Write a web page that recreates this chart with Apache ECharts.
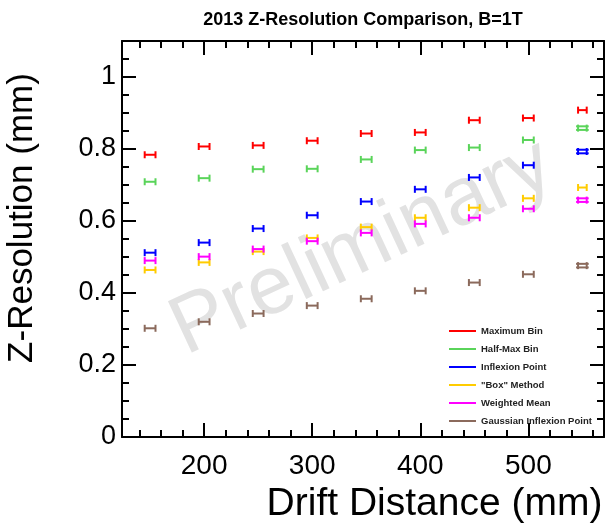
<!DOCTYPE html>
<html>
<head>
<meta charset="utf-8">
<script src="https://cdn.jsdelivr.net/npm/echarts@6/dist/echarts.min.js"></script>
<style>html,body{margin:0;padding:0;background:#fff}#c{width:608px;height:524px}</style>
</head>
<body>
<div id="c"></div>
<script>
// ---- data ----
const drift = [150, 200, 250, 300, 350, 400, 450, 500, 550];
const driftErr = [5, 5, 5, 5, 5, 5, 5, 5, 4];
const maxBin = [0.784, 0.807, 0.810, 0.823, 0.843, 0.846, 0.880, 0.886, 0.908];
const maxBinErr = [0, 0, 0, 0, 0, 0, 0, 0, 0];
const halfMax = [0.709, 0.719, 0.744, 0.745, 0.771, 0.797, 0.804, 0.825, 0.858];
const halfMaxErr = [0, 0, 0, 0, 0, 0, 0, 0, 0.005];
const inflexion = [0.512, 0.540, 0.579, 0.616, 0.654, 0.688, 0.721, 0.755, 0.793];
const inflexionErr = [0, 0, 0, 0, 0, 0, 0, 0, 0.005];
const boxMethod = [0.464, 0.485, 0.515, 0.553, 0.583, 0.609, 0.637, 0.663, 0.693];
const boxMethodErr = [0, 0, 0, 0, 0, 0, 0, 0, 0];
const weightedMean = [0.490, 0.501, 0.522, 0.544, 0.567, 0.592, 0.609, 0.634, 0.658];
const weightedMeanErr = [0, 0, 0, 0, 0, 0, 0, 0, 0.005];
const gaussInflexion = [0.302, 0.320, 0.343, 0.365, 0.384, 0.406, 0.429, 0.452, 0.476];
const gaussInflexionErr = [0, 0, 0, 0, 0, 0, 0, 0, 0.005];

const seriesNames = ['Maximum Bin', 'Half-Max Bin', 'Inflexion Point', '"Box" Method', 'Weighted Mean', 'Gaussian Inflexion Point'];
const seriesValues = [maxBin, halfMax, inflexion, boxMethod, weightedMean, gaussInflexion];
const seriesErrors = [maxBinErr, halfMaxErr, inflexionErr, boxMethodErr, weightedMeanErr, gaussInflexionErr];
const seriesColors = ['#ff0000', '#5ad45a', '#0000ff', '#ffcc00', '#ff00ff', '#8b6a5c'];

const xMajor = [200, 300, 400, 500];
const xMinor = [140, 160, 180, 220, 240, 260, 280, 320, 340, 360, 380, 420, 440, 460, 480, 520, 540, 560];
const yMajor = [0, 0.2, 0.4, 0.6, 0.8, 1.0];
const yMinor = [0.05, 0.1, 0.15, 0.25, 0.3, 0.35, 0.45, 0.5, 0.55, 0.65, 0.7, 0.75, 0.85, 0.9, 0.95, 1.05];
const xMin = 124, xMax = 570, yMin = 0, yMax = 1.1;

const FONT = 'Liberation Sans, Arial, Helvetica, sans-serif';

function renderErr(params, api) {
  const x = api.value(0), y = api.value(1), ex = api.value(2), ey = api.value(3);
  const c = api.coord([x, y]);
  const l = api.coord([x - ex, y]);
  const r = api.coord([x + ex, y]);
  const color = api.visual('color');
  const style = { stroke: color, lineWidth: 2 };
  const cap = 3.5;
  const ch = [
    { type: 'line', shape: { x1: l[0], y1: c[1] - cap, x2: l[0], y2: c[1] + cap }, style },
    { type: 'line', shape: { x1: r[0], y1: c[1] - cap, x2: r[0], y2: c[1] + cap }, style }
  ];
  if (ey > 0) {
    const t = api.coord([x, y + ey]);
    const b = api.coord([x, y - ey]);
    const hw = (r[0] - l[0]) / 2 + 2;
    ch.push({ type: 'line', shape: { x1: c[0] - hw, y1: t[1], x2: c[0] + hw, y2: t[1] }, style });
    ch.push({ type: 'line', shape: { x1: c[0] - hw, y1: b[1], x2: c[0] + hw, y2: b[1] }, style });
  } else {
    ch.push({ type: 'line', shape: { x1: l[0], y1: c[1], x2: r[0], y2: c[1] }, style });
  }
  return { type: 'group', children: ch };
}

const series = seriesNames.map((name, i) => ({
  name,
  type: 'custom',
  xAxisIndex: 0,
  yAxisIndex: 0,
  renderItem: renderErr,
  itemStyle: { color: seriesColors[i] },
  encode: { x: 0, y: 1 },
  data: drift.map((d, k) => [d, seriesValues[i][k], driftErr[k], seriesErrors[i][k]]),
  z: 5
}));

const line = { lineStyle: { color: '#000', width: 2 } };
function xAx(pos, major, showLine, withLabels) {
  return {
    type: 'value', min: xMin, max: xMax, position: pos, offset: 0,
    axisLine: { show: showLine, onZero: false, ...line },
    axisTick: { show: true, inside: true, length: major ? 14 : 7, customValues: major ? xMajor : xMinor, lineStyle: { color: '#000', width: 2 } },
    axisLabel: withLabels ? { show: true, customValues: xMajor, fontSize: 28, fontFamily: FONT, color: '#000', margin: 15 } : { show: false },
    splitLine: { show: false }
  };
}
function yAx(pos, major, showLine, withLabels) {
  return {
    type: 'value', min: yMin, max: yMax, position: pos, offset: 0,
    axisLine: { show: showLine, onZero: false, ...line },
    axisTick: { show: true, inside: true, length: major ? 14 : 7, customValues: major ? yMajor : yMinor, lineStyle: { color: '#000', width: 2 } },
    axisLabel: withLabels ? { show: true, customValues: yMajor, fontSize: 27, fontFamily: FONT, color: '#000', margin: 6 } : { show: false },
    splitLine: { show: false }
  };
}

const xAxes = [xAx('bottom', true, true, true), xAx('bottom', false, false, false), xAx('top', true, true, false), xAx('top', false, false, false)];
xAxes[0].name = 'Drift Distance (mm)';
xAxes[0].nameLocation = 'middle';
xAxes[0].nameGap = 30;
xAxes[0].nameTextStyle = { fontSize: 39, fontFamily: FONT, color: '#000', padding: [0, 0, 0, 143], verticalAlign: 'top' };
const yAxes = [yAx('left', true, true, true), yAx('left', false, false, false), yAx('right', true, true, false), yAx('right', false, false, false)];
yAxes[0].name = 'Z-Resolution (mm)';
yAxes[0].nameLocation = 'middle';
yAxes[0].nameGap = 82;
yAxes[0].nameTextStyle = { fontSize: 35, fontFamily: FONT, color: '#000', padding: [0, 0, 0, 42] };

const chart = echarts.init(document.getElementById('c'), null, { renderer: 'canvas' });
chart.setOption({
  backgroundColor: '#fff',
  animation: false,
  title: {
    text: '2013 Z-Resolution Comparison, B=1T',
    left: 358, top: 6, textAlign: 'center',
    textStyle: { fontSize: 18, fontWeight: 'bold', fontFamily: FONT, color: '#000' }
  },
  grid: { left: 122, right: 4, top: 41, bottom: 87, containLabel: false, outerBoundsMode: 'none' },
  xAxis: xAxes,
  yAxis: yAxes,
  legend: {
    orient: 'vertical', left: 449, top: 325, padding: 0,
    icon: 'rect', itemWidth: 27, itemHeight: 2, itemGap: 6,
    textStyle: { fontSize: 9.5, fontWeight: 'bold', fontFamily: FONT, color: '#222', lineHeight: 12 },
    data: seriesNames
  },
  graphic: [{
    type: 'text', x: 362, y: 248, rotation: 25 * Math.PI / 180, z: -10,
    style: { text: 'Preliminary', font: '82px ' + FONT, fill: '#e2e2e2', align: 'center', verticalAlign: 'middle' }
  }],
  series
});
</script>
</body>
</html>
